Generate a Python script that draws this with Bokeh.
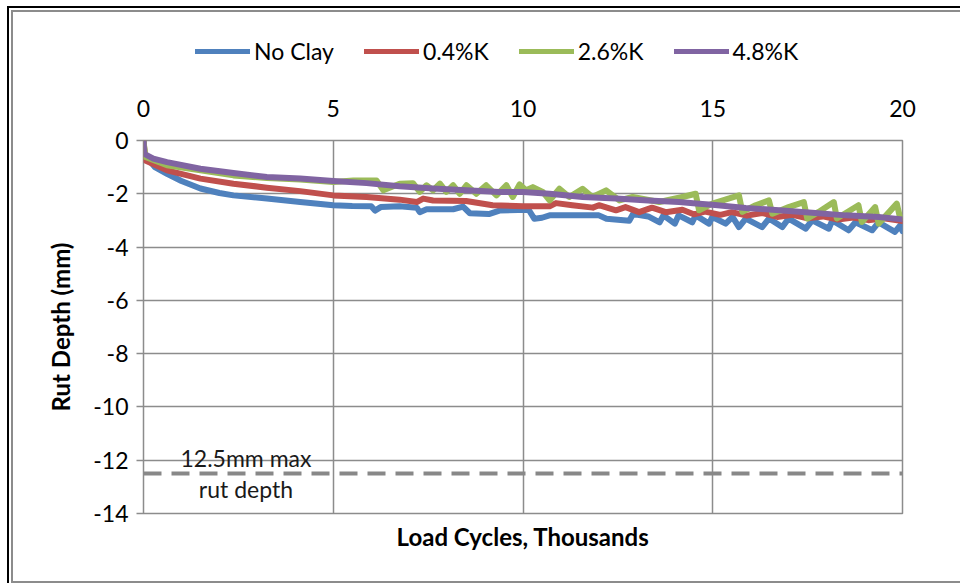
from bokeh.plotting import figure
from bokeh.layouts import column
from bokeh.models import (Range1d, LinearAxis, FixedTicker, Legend, LegendItem,
                          ColumnDataSource, PrintfTickFormatter)
from bokeh.embed import file_html
from bokeh.resources import INLINE
from bokeh.core.properties import value

# Load cycles (thousands) and rut depth (mm) per mix
no_clay_x = [0, 0.03, 0.3, 0.62, 1.0, 1.5, 2.0, 2.37, 3.25, 4.13,
             5.0, 5.5, 6.0, 6.1, 6.25, 6.75, 7.2, 7.28, 7.46, 8.16,
             8.42, 8.6, 9.1, 9.38, 10.15, 10.3, 10.5, 10.7, 12.0, 12.2,
             12.8, 12.9, 13.3, 13.6, 13.7, 14.0, 14.1, 14.46, 14.55, 14.9,
             14.99, 15.34, 15.52, 15.69, 15.87, 16.3, 16.48, 16.83, 17.0, 17.45,
             17.62, 18.06, 18.15, 18.58, 18.76, 19.2, 19.37, 19.8, 19.94, 20.0]
no_clay_y = [0, -0.55, -1.0, -1.25, -1.52, -1.8, -1.97, -2.06, -2.18, -2.31,
             -2.43, -2.46, -2.47, -2.63, -2.5, -2.47, -2.52, -2.69, -2.58, -2.58,
             -2.48, -2.73, -2.76, -2.63, -2.6, -2.94, -2.9, -2.81, -2.81, -2.94,
             -3.01, -2.76, -2.85, -3.07, -2.81, -3.12, -2.81, -3.07, -2.81, -3.12,
             -2.87, -3.12, -2.87, -3.25, -2.93, -3.25, -2.93, -3.25, -2.93, -3.31,
             -3.0, -3.31, -3.0, -3.37, -3.07, -3.37, -3.07, -3.43, -3.19, -3.4]

k04_x = [0, 0.05, 0.62, 1.5, 2.37, 3.25, 4.13, 5.0, 5.88, 6.75,
         7.2, 7.37, 7.63, 8.5, 9.2, 10.0, 10.7, 10.87, 11.3, 11.84,
         12.0, 12.45, 12.7, 13.06, 13.4, 13.76, 14.2, 14.5, 14.8, 15.2,
         15.5, 15.9, 16.3, 16.7, 17.1, 17.5, 17.9, 18.3, 18.7, 19.1,
         19.5, 20.0]
k04_y = [0, -0.75, -1.12, -1.43, -1.62, -1.77, -1.9, -2.06, -2.12, -2.22,
         -2.31, -2.18, -2.25, -2.27, -2.43, -2.47, -2.47, -2.35, -2.43, -2.52,
         -2.43, -2.62, -2.5, -2.69, -2.52, -2.69, -2.6, -2.77, -2.67, -2.79,
         -2.69, -2.82, -2.72, -2.87, -2.79, -2.92, -2.85, -2.97, -2.89, -2.99,
         -2.92, -3.02]

k26_x = [0, 0.05, 0.62, 1.5, 2.37, 3.25, 4.13, 5.0, 5.53, 6.14,
         6.32, 6.75, 7.1, 7.28, 7.46, 7.63, 7.81, 7.98, 8.16, 8.33,
         8.51, 8.77, 9.03, 9.3, 9.56, 9.73, 9.91, 10.08, 10.26, 10.52,
         10.7, 10.96, 11.22, 11.57, 11.83, 12.19, 12.54, 12.89, 13.59, 14.2,
         14.55, 14.64, 14.99, 15.69, 15.78, 16.13, 16.48, 16.57, 17.0, 17.4,
         17.49, 17.79, 18.19, 18.27, 18.84, 18.93, 19.28, 19.37, 19.85, 19.94,
         20.0]
k26_y = [0, -0.62, -0.93, -1.12, -1.31, -1.41, -1.46, -1.56, -1.5, -1.5,
         -1.87, -1.62, -1.6, -1.93, -1.68, -1.87, -1.62, -1.93, -1.68, -2.0,
         -1.68, -2.0, -1.68, -2.06, -1.68, -2.12, -1.65, -1.87, -1.75, -1.93,
         -2.25, -1.81, -2.12, -1.81, -2.12, -1.87, -2.25, -2.12, -2.31, -2.12,
         -2.0, -2.62, -2.37, -2.06, -2.68, -2.43, -2.25, -2.75, -2.5, -2.31,
         -2.93, -2.68, -2.31, -2.93, -2.43, -3.06, -2.5, -3.12, -2.37, -2.93,
         -2.9]

k48_x = [0, 0.02, 0.26, 0.62, 1.5, 2.37, 3.25, 4.13, 5.0, 5.88,
         6.75, 7.63, 8.5, 9.38, 10.0, 10.7, 11.57, 12.45, 13.3, 14.11,
         14.64, 14.99, 15.87, 16.75, 17.62, 18.5, 19.37, 20.0]
k48_y = [0, -0.5, -0.68, -0.81, -1.06, -1.22, -1.37, -1.43, -1.52, -1.6,
         -1.72, -1.8, -1.87, -1.93, -1.93, -2.0, -2.12, -2.18, -2.25, -2.31,
         -2.37, -2.41, -2.53, -2.62, -2.71, -2.81, -2.87, -2.96]

series_names = ["No Clay", "0.4%K", "2.6%K", "4.8%K"]
series_colors = ["#4F81BD", "#C0504D", "#9BBB59", "#8064A2"]
series_x = [no_clay_x, k04_x, k26_x, k48_x]
series_y = [no_clay_y, k04_y, k26_y, k48_y]
x_ticks = [0, 5, 10, 15, 20]
y_ticks = [-14, -12, -10, -8, -6, -4, -2, 0]
max_rut = 12.5  # allowable rut depth, mm

FONT = "Lato"
GRID = "#8c8c8c"

# ---- main chart -------------------------------------------------------
p = figure(width=960, height=491, frame_width=759, frame_height=373,
           output_backend="svg", toolbar_location=None,
           x_range=Range1d(0, 20), y_range=Range1d(-14, 0),
           x_axis_location="above",
           min_border_left=143, min_border_right=58,
           min_border_top=48, min_border_bottom=70)
p.background_fill_color = "white"
p.border_fill_alpha = 0
p.outline_line_color = GRID
p.outline_line_width = 1.5

# top axis: tick labels only
xa = p.xaxis[0]
xa.ticker = FixedTicker(ticks=x_ticks)
xa.axis_line_color = None
xa.major_tick_line_color = None
xa.minor_tick_line_color = None
xa.major_label_text_font = FONT
xa.major_label_text_font_size = "23px"
xa.major_label_text_color = "black"
xa.major_label_standoff = 18

ya = p.yaxis[0]
ya.ticker = FixedTicker(ticks=y_ticks)
ya.formatter = PrintfTickFormatter(format="%d")
ya.axis_line_color = None
ya.major_tick_line_color = GRID
ya.major_tick_line_width = 1.5
ya.major_tick_out = 7
ya.major_tick_in = 0
ya.minor_tick_line_color = None
ya.major_label_text_font = FONT
ya.major_label_text_font_size = "23px"
ya.major_label_text_color = "black"
ya.major_label_standoff = 8
ya.axis_label = "Rut Depth (mm)"
ya.axis_label_text_font = FONT
ya.axis_label_text_font_style = "bold"
ya.axis_label_text_font_size = "24px"
ya.axis_label_text_color = "black"
ya.axis_label_standoff = 15

# bottom axis carries only the title
xb = LinearAxis(ticker=FixedTicker(ticks=[]), axis_label="Load Cycles, Thousands")
xb.axis_line_color = None
xb.major_tick_line_color = None
xb.minor_tick_line_color = None
xb.major_label_text_font_size = "0px"
xb.axis_label_text_font = FONT
xb.axis_label_text_font_style = "bold"
xb.axis_label_text_font_size = "24px"
xb.axis_label_text_color = "black"
xb.axis_label_standoff = 8
p.add_layout(xb, "below")

p.xgrid.grid_line_color = GRID
p.xgrid.grid_line_width = 1.5
p.ygrid.grid_line_color = GRID
p.ygrid.grid_line_width = 1.5
p.ygrid.ticker = FixedTicker(ticks=y_ticks)

# allowable rut depth line and its note
p.line(x=[x_ticks[0], x_ticks[-1]], y=[-max_rut, -max_rut], line_color="#888888",
       line_width=4, line_dash="18 10")
note = ColumnDataSource(dict(x=[2.7], y=[-max_rut], t=[f"{max_rut:g}mm max\nrut depth"]))
p.text(x="x", y="y", text="t", source=note, text_align="center", text_baseline="middle",
       text_font=value(FONT), text_font_size="23px", text_color="#1a1a1a",
       text_line_height=1.1)

for color, xs, ys in zip(series_colors, series_x, series_y):
    p.line(xs, ys, line_color=color, line_width=6, line_join="round", line_cap="round")

# ---- legend strip above the chart -------------------------------------
# its y range lies far from the data, so the key lines only show in the legend
lf = figure(width=960, height=92, output_backend="svg", toolbar_location=None,
            x_axis_type=None, y_axis_type=None, min_border=0,
            x_range=Range1d(0, 20), y_range=Range1d(100, 101))
lf.outline_line_color = None
lf.background_fill_alpha = 0
lf.border_fill_alpha = 0
lf.grid.visible = False

items = []
for name, color, xs, ys in zip(series_names, series_colors, series_x, series_y):
    key = lf.line(xs, ys, line_color=color, line_width=5, line_cap="round")
    items.append(LegendItem(label=name, renderers=[key]))

legend = Legend(items=items, orientation="horizontal", location=(52, 27),
                glyph_width=55, glyph_height=28, label_standoff=4, spacing=30,
                padding=0, margin=0, border_line_color=None, background_fill_alpha=0,
                label_text_font=FONT, label_text_font_size="23px",
                label_text_color="black")
lf.add_layout(legend)

# outer chart border: black on top/left, grey inside it on top/left/bottom
layout = column(lf, p, spacing=0, styles={
    "background-color": "white",
    "box-shadow": ("inset 7px 6px 0 0 white, inset 9px 8px 0 0 black, "
                   "inset 11px 10px 0 0 white, inset 13px 12px 0 0 #8c8c8c, "
                   "inset 0 -2px 0 0 #8c8c8c"),
})

open("out.html", "w").write(file_html(layout, INLINE))
